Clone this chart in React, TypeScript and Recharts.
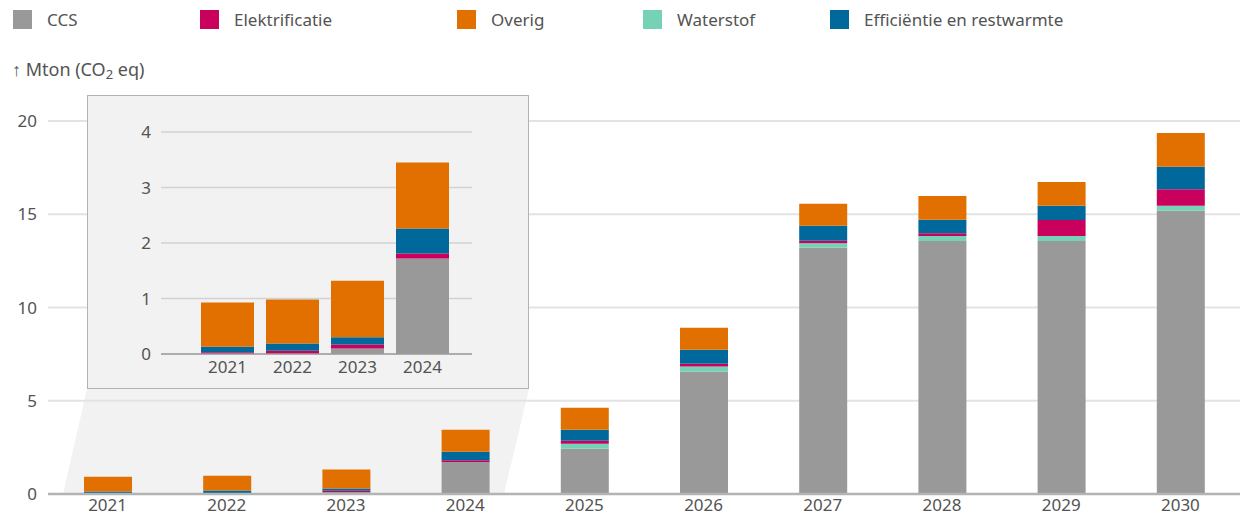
import { Bar, BarChart, CartesianGrid, XAxis, YAxis } from "recharts";

const years = ["2021", "2022", "2023", "2024", "2025", "2026", "2027", "2028", "2029", "2030"];
const ccs = [0, 0, 0.1, 1.72, 2.43, 6.56, 13.2, 13.57, 13.57, 15.19];
const waterstof = [0, 0, 0, 0, 0.27, 0.27, 0.25, 0.26, 0.26, 0.27];
const elektrificatie = [0.03, 0.06, 0.07, 0.09, 0.15, 0.16, 0.13, 0.15, 0.86, 0.88];
const efficientie = [0.1, 0.13, 0.13, 0.45, 0.59, 0.75, 0.8, 0.73, 0.77, 1.21];
const overig = [0.8, 0.79, 1.02, 1.19, 1.18, 1.18, 1.18, 1.27, 1.27, 1.81];

const mainTicks = [0, 5, 10, 15, 20];
const insetTicks = [0, 1, 2, 3, 4];
const insetYears = ["2021", "2022", "2023", "2024"];

const data = years.map((year, i) => ({
  year,
  ccs: ccs[i],
  waterstof: waterstof[i],
  elektrificatie: elektrificatie[i],
  efficientie: efficientie[i],
  overig: overig[i],
}));
const insetData = data.filter((d) => insetYears.includes(d.year));

// stacking order, bottom to top
const SERIES = [
  { key: "ccs", name: "CCS", color: "#999999" },
  { key: "waterstof", name: "Waterstof", color: "#76D2B6" },
  { key: "elektrificatie", name: "Elektrificatie", color: "#CA005D" },
  { key: "efficientie", name: "Efficiëntie en restwarmte", color: "#01689B" },
  { key: "overig", name: "Overig", color: "#E17000" },
];

const LEGEND_ORDER = ["ccs", "elektrificatie", "overig", "waterstof", "efficientie"];
const LEGEND_X = [13, 200, 457, 643, 830];

const TEXT = "#535353";
const FONT = "'Noto Sans', sans-serif";
const tick = { fontSize: 17, fill: TEXT };

const App = () => {
  return (
    <div
      style={{
        position: "absolute",
        left: 0,
        top: 0,
        width: 1240,
        height: 515,
        background: "#fff",
        fontFamily: FONT,
        color: TEXT,
      }}
    >
      {/* legend */}
      {LEGEND_ORDER.map((k, i) => {
        const s = SERIES.find((x) => x.key === k)!;
        return (
          <div key={k} style={{ position: "absolute", left: LEGEND_X[i], top: 10, display: "flex", alignItems: "center" }}>
            <div style={{ width: 19, height: 19, background: s.color }} />
            <span style={{ marginLeft: 15, fontSize: 17, lineHeight: "19px", whiteSpace: "nowrap" }}>{s.name}</span>
          </div>
        );
      })}

      <div style={{ position: "absolute", left: 12, top: 57, fontSize: 18, whiteSpace: "nowrap" }}>
        ↑ Mton (CO<sub style={{ fontSize: 13, verticalAlign: -3 }}>2</sub> eq)
      </div>

      {/* zoom funnel */}
      <svg width={1240} height={515} style={{ position: "absolute", left: 0, top: 0 }}>
        <polygon points="87,389 529,389 504,494 63,494" fill="#f2f2f2" />
      </svg>

      <div style={{ position: "absolute", left: 0, top: 0 }}>
        <BarChart width={1240} height={515} data={data} margin={{ top: 121, right: 0, bottom: 0, left: 0 }}>
          <CartesianGrid vertical={false} stroke="#e3e3e3" strokeWidth={2} />
          <XAxis
            dataKey="year"
            height={21}
            tickLine={false}
            tickSize={0}
            tickMargin={5}
            tick={tick}
            axisLine={{ stroke: "#b3b3b3", strokeWidth: 2.5 }}
            interval={0}
          />
          <YAxis
            width={48}
            domain={[0, 20]}
            ticks={mainTicks}
            axisLine={false}
            tickLine={false}
            tickSize={0}
            tickMargin={11}
            tick={tick}
          />
          {SERIES.map((s) => (
            <Bar key={s.key} dataKey={s.key} stackId="a" fill={s.color} barSize={48} isAnimationActive={false} />
          ))}
        </BarChart>
      </div>

      {/* inset */}
      <div
        style={{
          position: "absolute",
          left: 87,
          top: 95,
          width: 442,
          height: 294,
          background: "#f2f2f2",
          border: "1.5px solid #b3b3b3",
          boxSizing: "border-box",
        }}
      >
        <div style={{ position: "absolute", left: -1.5, top: -1.5 }}>
          <BarChart width={442} height={294} data={insetData} margin={{ top: 37, right: 57, bottom: 14, left: 0 }}>
            <CartesianGrid vertical={false} stroke="#d2d2d2" strokeWidth={1.5} />
            <XAxis
              dataKey="year"
              height={21}
              tickLine={false}
              tickSize={0}
              tickMargin={7}
              tick={tick}
              axisLine={{ stroke: "#9e9e9e", strokeWidth: 1.5 }}
              padding={{ left: 34, right: 17 }}
              interval={0}
            />
            <YAxis
              width={74}
              domain={[0, 4]}
              ticks={insetTicks}
              axisLine={false}
              tickLine={false}
              tickSize={0}
              tickMargin={10}
              tick={tick}
            />
            {SERIES.map((s) => (
              <Bar key={s.key} dataKey={s.key} stackId="a" fill={s.color} barSize={53} isAnimationActive={false} />
            ))}
          </BarChart>
        </div>
      </div>
    </div>
  );
};

export default App;
